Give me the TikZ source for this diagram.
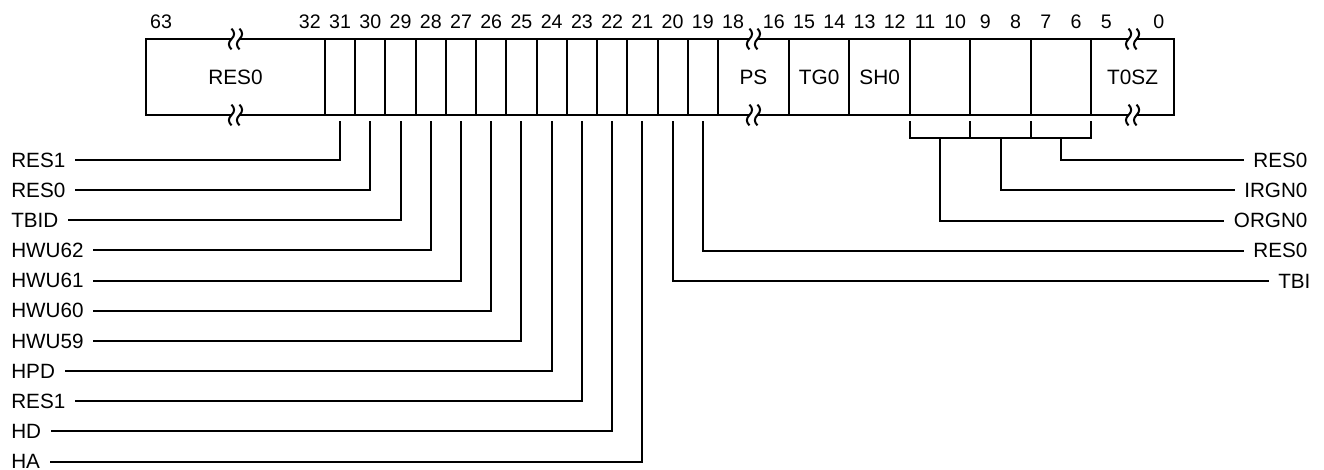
\documentclass[tikz,border=0pt]{standalone}
\usepackage{fontspec}
\setmainfont{Liberation Sans}
\usepackage{tikz}
\usetikzlibrary{positioning}
\newcommand{\cellw}{22.67pt}
\tikzset{
  field/.style   = {rectangle, draw=black, line width=1.5pt, minimum width=#1, minimum height=57pt,
                    inner sep=0pt, outer sep=0pt, font=\fontsize{15.6}{18}\selectfont},
  field/.default = \cellw,
  bitno/.style   = {anchor=base, inner sep=0pt, font=\fontsize{14.7}{17}\selectfont},
  tag/.style     = {inner xsep=7pt, inner ysep=0pt, font=\fontsize{15.5}{18}\selectfont},
  lead/.style    = {line width=1.5pt},
  cut/.style     = {line width=1.5pt},
}
% numbers over the first and last bit of a wide field
\newcommand{\bitspan}[3]{%
  \node[bitno] (#1hi) at ([xshift=0.5*\cellw, yshift=8pt]#1.north west) {#2};
  \node[bitno] (#1lo) at ([xshift=-0.5*\cellw, yshift=8pt]#1.north east) {#3};}
% break mark on an edge
\newcommand{\wavecut}[1]{%
  \fill[white] ([xshift=-3pt, yshift=-1.2pt]#1) rectangle ([xshift=3pt, yshift=1.2pt]#1);
  \draw[cut] ([xshift=-3pt, yshift=7.8pt]#1) .. controls +(2.6pt,-2.6pt) and +(2.6pt,2.6pt) .. ++(0pt,-7.8pt)
    .. controls +(-2.6pt,-2.6pt) and +(-2.6pt,2.6pt) .. ++(0pt,-7.8pt);
  \draw[cut] ([xshift=3pt, yshift=7.8pt]#1) .. controls +(2.6pt,-2.6pt) and +(2.6pt,2.6pt) .. ++(0pt,-7.8pt)
    .. controls +(-2.6pt,-2.6pt) and +(-2.6pt,2.6pt) .. ++(0pt,-7.8pt);}

\begin{document}
\begin{tikzpicture}[x=0.75pt, y=-0.75pt]
  \useasboundingbox (0,0) rectangle (1324,469);

  % register fields
  \node[field=134.25pt, anchor=west] (hi) at (146,77) {RES0};
  \node[field, right=0pt of hi] (b31) {};
  \foreach \b [remember=\b as \p (initially 31)] in {30,...,19}
    \node[field, right=0pt of b\p] (b\b) {};
  \node[field=53.25pt, right=0pt of b19] (ps) {PS};
  \node[field=2*\cellw, right=0pt of ps] (tg0) {TG0};
  \node[field=2*\cellw, right=0pt of tg0] (sh0) {SH0};
  \node[field=2*\cellw, right=0pt of sh0] (orgn) {};
  \node[field=2*\cellw, right=0pt of orgn] (irgn) {};
  \node[field=2*\cellw, right=0pt of irgn] (lo) {};
  \node[field=62pt, right=0pt of lo] (t0sz) {T0SZ};

  \wavecut{hi.north} \wavecut{hi.south}
  \wavecut{ps.north} \wavecut{ps.south}
  \wavecut{t0sz.north} \wavecut{t0sz.south}

  % bit numbers
  \foreach \b in {31,...,19}
    \node[bitno] (n\b) at ([yshift=8pt]b\b.north) {\b};
  \bitspan{hi}{63}{32}
  \bitspan{ps}{18}{16}
  \bitspan{tg0}{15}{14}
  \bitspan{sh0}{13}{12}
  \bitspan{orgn}{11}{10}
  \bitspan{irgn}{9}{8}
  \bitspan{lo}{7}{6}
  \bitspan{t0sz}{5}{0}

  % single bits, to the left
  \foreach \b/\t [count=\k from 0] in {31/RES1, 30/RES0, 29/TBID, 28/HWU62, 27/HWU61, 26/HWU60,
                                       25/HWU59, 24/HPD, 23/RES1, 22/HD, 21/HA} {
    \node[tag, anchor=west] (l\b) at (1.7, 160+30.15*\k) {\t};
    \draw[lead] ([yshift=-4.5pt]b\b.south) |- (l\b);
  }

  % to the right
  \node[tag, anchor=east] (rlo)   at (1317,160.2) {RES0};
  \node[tag, anchor=east] (rirgn) at (1317,190.4) {IRGN0};
  \node[tag, anchor=east] (rorgn) at (1317,220.6) {ORGN0};
  \node[tag, anchor=east] (r19)   at (1317,250.8) {RES0};
  \node[tag, anchor=east] (r20)   at (1320,281.0) {TBI};

  \draw[lead] ([yshift=-4.5pt]b19.south) |- (r19);
  \draw[lead] ([yshift=-4.5pt]b20.south) |- (r20);
  \draw[lead] ([yshift=-4.5pt]orgn.south west) |- ([yshift=-17.25pt]lo.south east) -- ([yshift=-4.5pt]lo.south east);
  \draw[lead] ([yshift=-4.5pt]orgn.south east) -- ([yshift=-17.25pt]orgn.south east);
  \draw[lead] ([yshift=-4.5pt]irgn.south east) -- ([yshift=-17.25pt]irgn.south east);
  \draw[lead] ([yshift=-17.25pt]orgn.south) |- (rorgn);
  \draw[lead] ([yshift=-17.25pt]irgn.south) |- (rirgn);
  \draw[lead] ([yshift=-17.25pt]lo.south) |- (rlo);
\end{tikzpicture}
\end{document}
